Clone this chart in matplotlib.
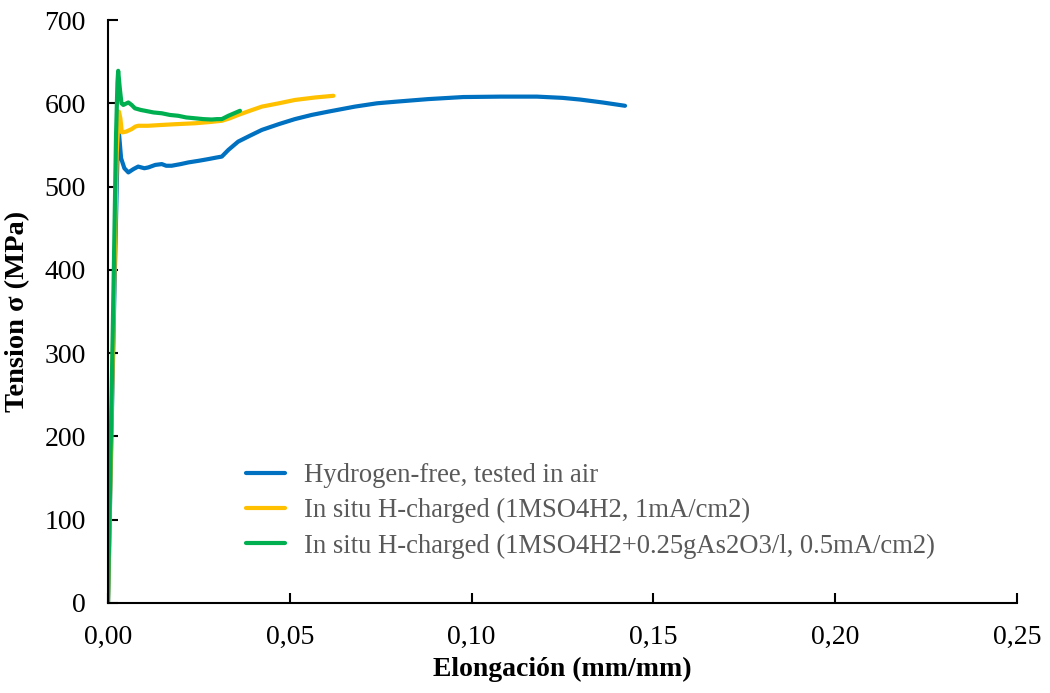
import matplotlib
matplotlib.use("Agg")
import matplotlib.pyplot as plt

# Data
blue_x = [0.0, 0.0008, 0.0016, 0.0024, 0.0028, 0.0031, 0.0036, 0.0045, 0.0056, 0.0070, 0.0083, 0.0100,
          0.0111, 0.0130, 0.0148, 0.0160, 0.0175, 0.0200, 0.0221, 0.0250, 0.0276, 0.0300, 0.0313,
          0.0331, 0.0358, 0.0390, 0.0423, 0.0470, 0.0514, 0.0560, 0.0606, 0.0679, 0.0740,
          0.0794, 0.0880, 0.0977, 0.1080, 0.1180, 0.1250, 0.1298, 0.1360, 0.1422]
blue_y = [0, 170, 340, 500, 570, 560, 534, 522, 517, 521, 524, 522,
          523, 526, 527, 525, 525, 527, 529, 531, 533, 535, 536,
          544, 554, 561, 568, 575, 581, 586, 590, 596, 600,
          602, 605, 607.5, 608, 608, 606.5, 604.5, 601, 597]

yellow_x = [0.0, 0.0008, 0.0016, 0.0024, 0.0030, 0.0034, 0.0038, 0.0050, 0.0065, 0.0075, 0.0083,
            0.0110, 0.0148, 0.0190, 0.0239, 0.0280, 0.0313, 0.0335, 0.0358, 0.0390, 0.0423,
            0.0470, 0.0514, 0.0570, 0.0620]
yellow_y = [0, 180, 360, 540, 590, 582, 565, 566, 569, 572, 573,
            573, 574, 575, 576, 577.5, 579, 582, 586, 591, 596,
            600, 604, 607, 609]

green_x = [0.0, 0.0008, 0.0016, 0.0022, 0.0026, 0.0028, 0.0032, 0.0037, 0.0042, 0.0056, 0.0065,
           0.0074, 0.0090, 0.0102, 0.0125, 0.0148, 0.0170, 0.0193, 0.0215, 0.0239, 0.0262,
           0.0285, 0.0300, 0.0313, 0.0322, 0.0331, 0.0347, 0.0363]
green_y = [0, 200, 400, 560, 625, 639, 620, 600, 598, 601, 598,
           594, 592, 591, 589, 588, 586, 585, 583, 582, 581,
           580.5, 581, 581, 583, 585, 588, 591]

labels = ["Hydrogen-free, tested in air",
          "In situ H-charged (1MSO4H2, 1mA/cm2)",
          "In situ H-charged (1MSO4H2+0.25gAs2O3/l, 0.5mA/cm2)"]
colors = ["#0070C0", "#FFC000", "#00B050"]

xticks = [0.0, 0.05, 0.10, 0.15, 0.20, 0.25]
xtick_labels = ["0,00", "0,05", "0,10", "0,15", "0,20", "0,25"]
yticks = [0, 100, 200, 300, 400, 500, 600, 700]

plt.rcParams['font.family'] = ['Liberation Serif', 'DejaVu Serif']

fig = plt.figure(figsize=(10.5, 6.93), dpi=100)
ax = fig.add_axes([108/1050, 1-603/693, (1017-108)/1050, (603-20)/693])

for xs, ys, c, lab in zip([blue_x, yellow_x, green_x], [blue_y, yellow_y, green_y], colors, labels):
    ax.plot(xs, ys, color=c, lw=3.0, label=lab, solid_capstyle='round', solid_joinstyle='round')

ax.set_xlim(0, 0.25)
ax.set_ylim(0, 700)
ax.set_xticks(xticks)
ax.set_xticklabels(xtick_labels)
ax.set_yticks(yticks)
ax.tick_params(direction='in', length=7, width=1.5, labelsize=20)
ax.tick_params(axis='y', pad=16)
ax.tick_params(axis='x', pad=16)
for s in ['top', 'right']:
    ax.spines[s].set_visible(False)
for s in ['left', 'bottom']:
    ax.spines[s].set_linewidth(1.5)

ax.set_xlabel("Elongación (mm/mm)", fontsize=20, fontweight='bold', labelpad=5)
ax.set_ylabel("Tension σ (MPa)", fontsize=20.5, fontweight='bold', labelpad=10)

leg = ax.legend(loc='upper left', bbox_to_anchor=(222/1050, 1-439/693), bbox_transform=fig.transFigure,
                frameon=False, fontsize=19.2, handlelength=1.45, handletextpad=0.72, labelspacing=0.38)
for t in leg.get_texts():
    t.set_color('#595959')

fig.savefig("out.png", dpi=100)
